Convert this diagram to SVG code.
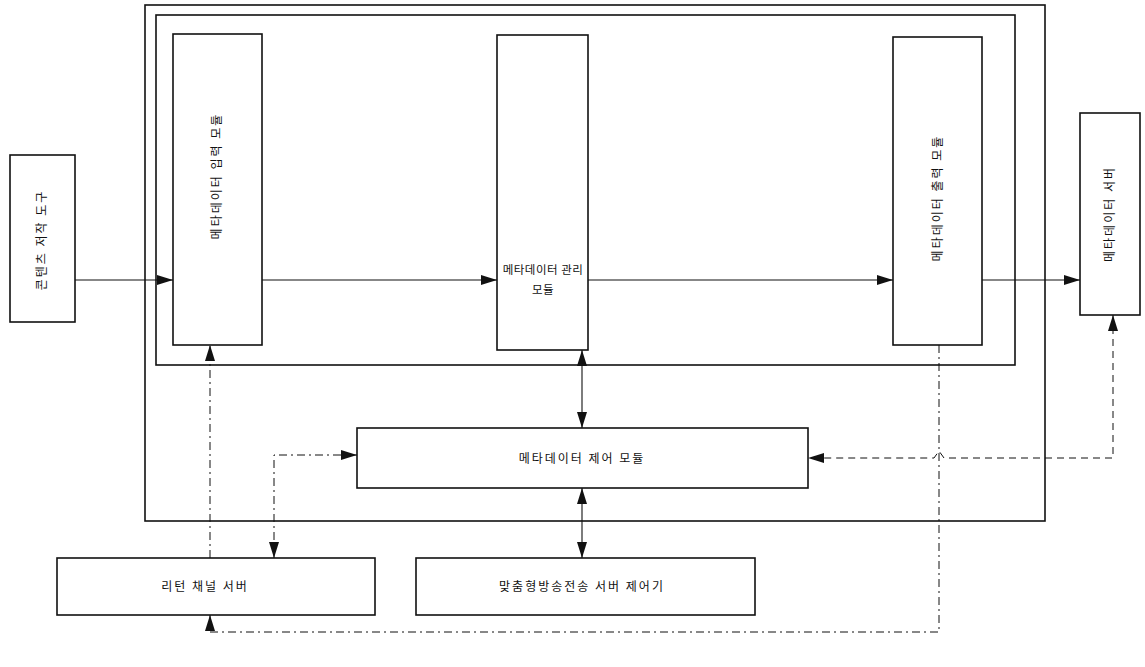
<svg xmlns="http://www.w3.org/2000/svg" width="1145" height="667" viewBox="0 0 1145 667">
<style>
.box{fill:#fff;stroke:#111;stroke-width:1.6}
.frame{fill:none;stroke:#111;stroke-width:1.6}
.t{font-family:"Noto Sans CJK KR","Noto Sans",sans-serif;font-size:12px;fill:#111;letter-spacing:2px}
.tm{font-size:11.5px;letter-spacing:0.5px}
.c{fill:none;stroke:#111;stroke-width:1.1}
.dd{fill:none;stroke:#111;stroke-width:1;stroke-dasharray:8 4 2 4}
.dl{fill:none;stroke:#111;stroke-width:1;stroke-dasharray:7 5}
</style>
<defs>
<marker id="ah" viewBox="0 0 16 10" refX="16" refY="5" markerWidth="16" markerHeight="10" markerUnits="userSpaceOnUse" orient="auto-start-reverse">
<path d="M0,0 L16,5 L0,10 z" fill="#111"/>
</marker>
</defs>
<rect width="1145" height="667" fill="#fff"/>
<g id="outer-frame"><rect class="frame" x="145" y="5" width="900" height="516"/></g>
<g id="inner-frame"><rect class="frame" x="156" y="15" width="859" height="350"/></g>
<g id="tool"><rect class="box" x="10" y="155" width="65" height="167"/><text class="t" transform="translate(46,240) rotate(-90)" text-anchor="middle">콘텐츠 저작 도구</text></g>
<g id="input"><rect class="box" x="173" y="34" width="89" height="311"/><text class="t" transform="translate(221,176) rotate(-90)" text-anchor="middle">메타데이터 입력 모듈</text></g>
<g id="manage"><rect class="box" x="497" y="35" width="91" height="315"/><text class="t tm" x="543" y="274" text-anchor="middle">메타데이터 관리</text><text class="t tm" x="543" y="294" text-anchor="middle">모듈</text></g>
<g id="output"><rect class="box" x="893" y="37" width="89" height="308"/><text class="t" transform="translate(942,198) rotate(-90)" text-anchor="middle">메타데이터 출력 모듈</text></g>
<g id="server"><rect class="box" x="1080" y="113" width="60" height="202"/><text class="t" transform="translate(1114,214) rotate(-90)" text-anchor="middle">메타데이터 서버</text></g>
<g id="control"><rect class="box" x="357" y="428" width="451" height="60"/><text class="t" x="582" y="463" text-anchor="middle">메타데이터 제어 모듈</text></g>
<g id="return"><rect class="box" x="57" y="558" width="318" height="57"/><text class="t" x="205" y="591" text-anchor="middle">리턴 채널 서버</text></g>
<g id="custom"><rect class="box" x="416" y="558" width="339" height="57"/><text class="t" x="582" y="591" text-anchor="middle">맞춤형방송전송 서버 제어기</text></g>
<g id="connectors">
<line class="c" x1="75" y1="280" x2="173" y2="280" marker-end="url(#ah)"/>
<line class="c" x1="262" y1="280" x2="497" y2="280" marker-end="url(#ah)"/>
<line class="c" x1="588" y1="280" x2="893" y2="280" marker-end="url(#ah)"/>
<line class="c" x1="982" y1="280" x2="1080" y2="280" marker-end="url(#ah)"/>
<line class="c" x1="582" y1="350" x2="582" y2="428" marker-start="url(#ah)" marker-end="url(#ah)"/>
<line class="c" x1="582" y1="488" x2="582" y2="558" marker-start="url(#ah)" marker-end="url(#ah)"/>
<line class="dd" x1="210" y1="558" x2="210" y2="345" marker-end="url(#ah)"/>
<path class="dd" d="M274,558 L274,455 L357,455" marker-start="url(#ah)" marker-end="url(#ah)"/>
<path class="dl" d="M1113,315 L1113,458 L944,458 L939,451 L934,458 L808,458" marker-start="url(#ah)" marker-end="url(#ah)"/>
<path class="dd" d="M939,345 L939,632 L210,632 L210,615" marker-end="url(#ah)"/>
</g>
</svg>
